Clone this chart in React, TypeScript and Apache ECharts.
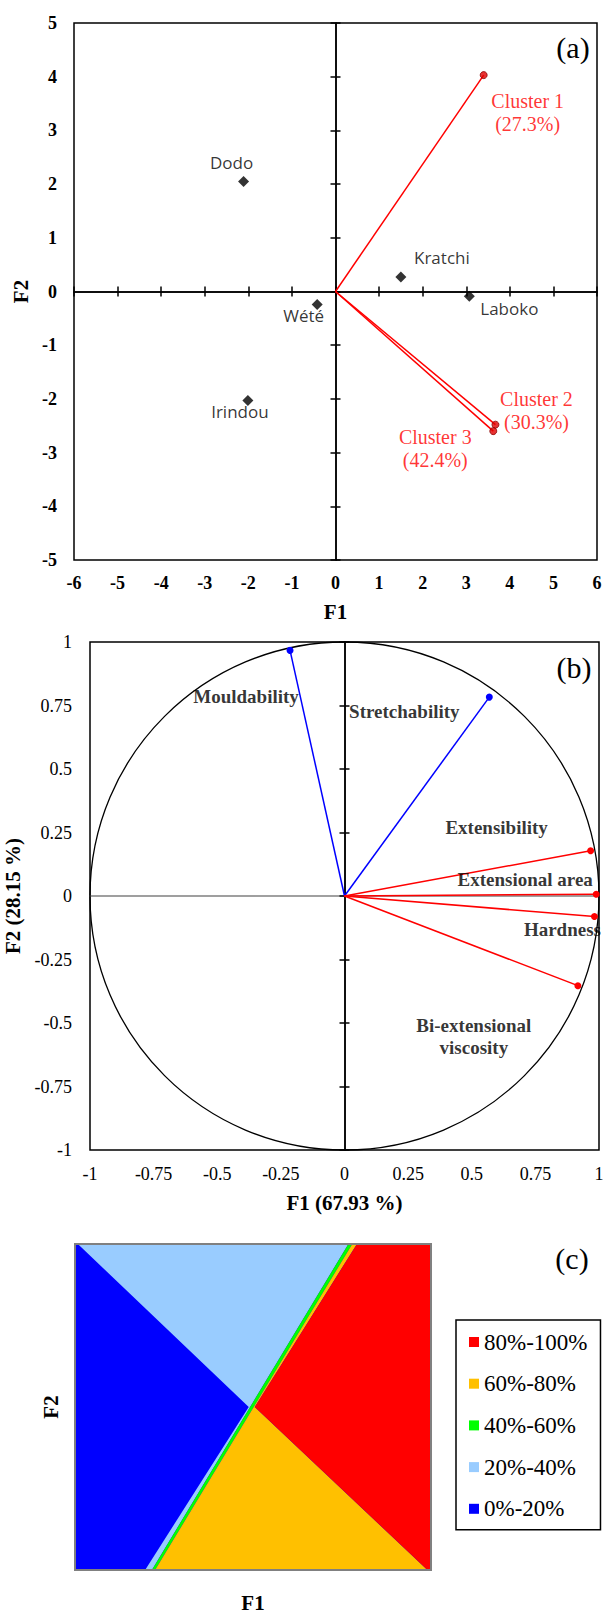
import React, { useEffect, useRef } from "react";
import * as echarts from "echarts";

// ---------- Panel (a): cultivar scores and cluster vectors ----------
const cultivars = ["Dodo", "Kratchi", "Laboko", "Wété", "Irindou"];
const cultivarF1 = [-2.11, 1.5, 3.07, -0.42, -2.01];
const cultivarF2 = [2.05, 0.27, -0.09, -0.24, -2.03];

const clusters = ["Cluster 1", "Cluster 2", "Cluster 3"];
const clusterShares = ["(27.3%)", "(30.3%)", "(42.4%)"];
const clusterF1 = [3.4, 3.67, 3.62];
const clusterF2 = [4.03, -2.48, -2.6];

// ---------- Panel (b): correlation circle ----------
const variables = [
  "Mouldability",
  "Stretchability",
  "Extensibility",
  "Extensional area",
  "Hardness",
  "Bi-extensional\nviscosity",
];
const variableF1 = [-0.214, 0.569, 0.967, 0.989, 0.982, 0.917];
const variableF2 = [0.967, 0.783, 0.178, 0.007, -0.081, -0.353];
const circleRadius = 1;

// ---------- Panel (c): probability map (normalised F1, F2) ----------
const bandNames = ["80%-100%", "60%-80%", "40%-60%", "20%-40%", "0%-20%"];
const band80to100 = [[0.792, 1], [1, 1], [1, 0], [0.99, 0], [0.505, 0.5]];
const band60to80 = [[0.225, 0], [0.779, 1], [0.792, 1], [0.505, 0.5], [0.99, 0]];
const band40to60 = [[0.216, 0], [0.768, 1], [0.779, 1], [0.225, 0]];
const band20to40 = [[0.008, 1], [0.768, 1], [0.216, 0], [0.197, 0], [0.488, 0.5]];
const band0to20 = [[0, 0], [1, 0], [1, 1], [0, 1]];
const bandPolygons = [band80to100, band60to80, band40to60, band20to40, band0to20];

// ---------- styles ----------
const serif = '"Liberation Serif", "Times New Roman", serif';
const sans = '"Open Sans", "Noto Sans", sans-serif';
const cultivarLabelOffsets = [[-12, -19], [41, -20], [40, 12], [-13.5, 11], [-8, 11]];
const clusterLabelOffsets = [[44, 37], [41, -14], [-58, 17]];
const variableColors = ["#0000ff", "#0000ff", "#ff0000", "#ff0000", "#ff0000", "#ff0000"];
const variableLabelOffsets = [[-44, 46], [-85, 14], [-94, -23], [-71, -15], [-32, 13], [-104, 51]];
const bandColors = ["#ff0000", "#ffc000", "#00ff00", "#99ccff", "#0000ff"];

function valueAxis(extra: any) {
  return {
    type: "value",
    splitLine: { show: false },
    ...extra,
  };
}

function zeroAxis(gridIndex: number, min: number, max: number, interval: number, zeroIdx: number, pos: string, inside: boolean, ticks: boolean, color: string) {
  return valueAxis({
    gridIndex,
    min,
    max,
    interval,
    position: pos,
    axisLine: { show: true, onZero: true, onZeroAxisIndex: zeroIdx, lineStyle: { color, width: 1.5 } },
    axisTick: { show: ticks, inside, length: 5, lineStyle: { color: "#000", width: 1.5 } },
    axisLabel: { show: false },
  });
}

export default function App() {
  const ref = useRef<HTMLDivElement>(null);

  useEffect(() => {
    if (!ref.current) return;
    const chart = echarts.init(ref.current, undefined, { renderer: "svg" });

    const titleStyle = { fontFamily: serif, fontWeight: "bold", fontSize: 21, color: "#000" };

    const xAxis: any[] = [
      // 0: panel a labels
      valueAxis({
        gridIndex: 0, min: -6, max: 6, interval: 1, position: "bottom",
        axisLine: { show: false, onZero: false }, axisTick: { show: false },
        axisLabel: { fontFamily: serif, fontWeight: "bold", fontSize: 18, color: "#000", margin: 14 },
        name: "F1", nameLocation: "middle", nameGap: 41, nameTextStyle: titleStyle,
      }),
      // 1,2: panel a zero line
      zeroAxis(0, -6, 6, 1, 0, "bottom", true, true, "#000"),
      zeroAxis(0, -6, 6, 1, 0, "bottom", false, true, "#000"),
      // 3: panel b labels
      valueAxis({
        gridIndex: 1, min: -1, max: 1, interval: 0.25, position: "bottom",
        axisLine: { show: false, onZero: false }, axisTick: { show: false },
        axisLabel: { fontFamily: serif, fontSize: 18, color: "#000", margin: 15 },
        name: "F1 (67.93 %)", nameLocation: "middle", nameGap: 42, nameTextStyle: titleStyle,
      }),
      // 4: panel b zero line (grey)
      zeroAxis(1, -1, 1, 0.25, 3, "bottom", false, false, "#808080"),
      // 5: panel c
      valueAxis({
        gridIndex: 2, min: 0, max: 1, position: "bottom",
        axisLine: { show: false, onZero: false }, axisTick: { show: false }, axisLabel: { show: false },
        name: "F1", nameLocation: "middle", nameGap: 22, nameTextStyle: titleStyle,
      }),
    ];

    const yAxis: any[] = [
      // 0: panel a labels
      valueAxis({
        gridIndex: 0, min: -5, max: 5, interval: 1, position: "left",
        axisLine: { show: false, onZero: false }, axisTick: { show: false },
        axisLabel: { fontFamily: serif, fontWeight: "bold", fontSize: 18, color: "#000", margin: 17 },
        name: "F2", nameLocation: "middle", nameGap: 42, nameTextStyle: titleStyle,
      }),
      // 1,2: panel a zero line
      zeroAxis(0, -5, 5, 1, 0, "left", true, true, "#000"),
      zeroAxis(0, -5, 5, 1, 0, "left", false, true, "#000"),
      // 3: panel b labels
      valueAxis({
        gridIndex: 1, min: -1, max: 1, interval: 0.25, position: "left",
        axisLine: { show: false, onZero: false }, axisTick: { show: false },
        axisLabel: { fontFamily: serif, fontSize: 18, color: "#000", margin: 18 },
        name: "F2 (28.15 %)", nameLocation: "middle", nameGap: 53, nameTextStyle: titleStyle,
      }),
      // 4,5: panel b zero line (black, cross ticks)
      zeroAxis(1, -1, 1, 0.25, 3, "left", true, true, "#000"),
      zeroAxis(1, -1, 1, 0.25, 3, "left", false, true, "#000"),
      // 6: panel c
      valueAxis({
        gridIndex: 2, min: 0, max: 1, position: "left",
        axisLine: { show: false, onZero: false }, axisTick: { show: false }, axisLabel: { show: false },
        name: "F2", nameLocation: "middle", nameGap: 14, nameTextStyle: titleStyle,
      }),
    ];

    const series: any[] = [];

    // Panel a: cluster vectors
    clusters.forEach((c, i) => {
      series.push({
        type: "line", xAxisIndex: 0, yAxisIndex: 0, silent: true, symbol: "none",
        data: [[0, 0], [clusterF1[i], clusterF2[i]]],
        lineStyle: { color: "#ff0000", width: 1.5 }, z: 3,
      });
    });
    series.push({
      type: "scatter", xAxisIndex: 0, yAxisIndex: 0, silent: true,
      symbol: "circle", symbolSize: 7,
      itemStyle: { color: "#e00000", borderColor: "#8b0000", borderWidth: 1 },
      data: clusters.map((c, i) => ({
        name: c, value: [clusterF1[i], clusterF2[i]],
        label: { offset: clusterLabelOffsets[i] },
      })),
      label: {
        show: true, position: "inside",
        formatter: (p: any) => `${clusters[p.dataIndex]}\n${clusterShares[p.dataIndex]}`,
        fontFamily: serif, fontSize: 20, lineHeight: 23, color: "#ff0000",
        align: "center", verticalAlign: "middle",
      },
      z: 4,
    });
    series.push({
      type: "scatter", xAxisIndex: 0, yAxisIndex: 0, silent: true,
      symbol: "diamond", symbolSize: 11,
      itemStyle: { color: "#000" },
      data: cultivars.map((c, i) => ({
        name: c, value: [cultivarF1[i], cultivarF2[i]],
        label: { offset: cultivarLabelOffsets[i] },
      })),
      label: {
        show: true, position: "inside", formatter: "{b}",
        fontFamily: sans, fontSize: 17, color: "#000",
        align: "center", verticalAlign: "middle",
      },
      z: 4,
    });

    // Panel b: unit circle
    series.push({
      type: "custom", xAxisIndex: 3, yAxisIndex: 3, silent: true,
      data: [[0, 0]],
      renderItem: (params: any, api: any) => {
        const c = api.coord([0, 0]);
        const ex = api.coord([circleRadius, 0]);
        const ey = api.coord([0, circleRadius]);
        return {
          type: "ellipse",
          shape: { cx: c[0], cy: c[1], rx: ex[0] - c[0], ry: c[1] - ey[1] },
          style: { fill: "none", stroke: "#000", lineWidth: 1.3 },
        };
      },
      z: 2,
    });
    // Panel b: variable vectors
    variables.forEach((v, i) => {
      series.push({
        type: "line", xAxisIndex: 3, yAxisIndex: 3, silent: true,
        showSymbol: true,
        data: [
          { value: [0, 0], symbol: "none" },
          { value: [variableF1[i], variableF2[i]], symbol: "circle", symbolSize: 7 },
        ],
        itemStyle: { color: variableColors[i] },
        lineStyle: { color: variableColors[i], width: 1.5 },
        z: 3,
      });
    });
    series.push({
      type: "scatter", xAxisIndex: 3, yAxisIndex: 3, silent: true,
      symbolSize: 1, itemStyle: { color: "transparent" },
      data: variables.map((v, i) => ({
        name: v, value: [variableF1[i], variableF2[i]],
        label: { offset: variableLabelOffsets[i] },
      })),
      label: {
        show: true, position: "inside", formatter: "{b}",
        fontFamily: serif, fontWeight: "bold", fontSize: 19, lineHeight: 22.6, color: "#000",
        align: "center", verticalAlign: "middle",
      },
      z: 5,
    });

    // Panel c: probability bands (drawn lowest band first)
    for (let k = bandNames.length - 1; k >= 0; k--) {
      const poly = bandPolygons[k];
      const color = bandColors[k];
      series.push({
        type: "custom", name: bandNames[k], xAxisIndex: 5, yAxisIndex: 6, silent: true,
        data: [poly[0]],
        itemStyle: { color },
        renderItem: (params: any, api: any) => ({
          type: "polygon",
          shape: { points: poly.map((p) => api.coord(p)) },
          style: { fill: color },
        }),
      });
    }

    chart.setOption({
      animation: false,
      textStyle: { fontFamily: serif },
      grid: [
        { left: 74, top: 23, width: 523, height: 537, show: true, borderColor: "#000", borderWidth: 1.5, outerBoundsMode: "none", containLabel: false },
        { left: 90, top: 642, width: 509, height: 508, show: true, borderColor: "#000", borderWidth: 1.5, outerBoundsMode: "none", containLabel: false },
        { left: 75, top: 1244, width: 356, height: 326, show: true, borderColor: "#808080", borderWidth: 2, z: 10, outerBoundsMode: "none", containLabel: false },
      ],
      xAxis,
      yAxis,
      legend: {
        data: bandNames,
        orient: "vertical",
        left: 456,
        top: 1320,
        icon: "rect",
        itemWidth: 10,
        itemHeight: 10,
        itemGap: 17.7,
        padding: [10, 13, 9, 13],
        borderColor: "#000",
        borderWidth: 1.5,
        selectedMode: false,
        textStyle: { fontFamily: serif, fontSize: 23, lineHeight: 24, color: "#000" },
      },
      graphic: [
        { type: "text", x: 573, y: 47, style: { text: "(a)", font: `30px ${serif}`, fill: "#000", align: "center", verticalAlign: "middle" } },
        { type: "text", x: 574, y: 667, style: { text: "(b)", font: `30px ${serif}`, fill: "#000", align: "center", verticalAlign: "middle" } },
        { type: "text", x: 572, y: 1258, style: { text: "(c)", font: `30px ${serif}`, fill: "#000", align: "center", verticalAlign: "middle" } },
      ],
      series,
    });

    return () => chart.dispose();
  }, []);

  return (
    <div
      ref={ref}
      style={{ position: "absolute", left: 0, top: 0, width: 604, height: 1614, background: "#fff" }}
    />
  );
}
